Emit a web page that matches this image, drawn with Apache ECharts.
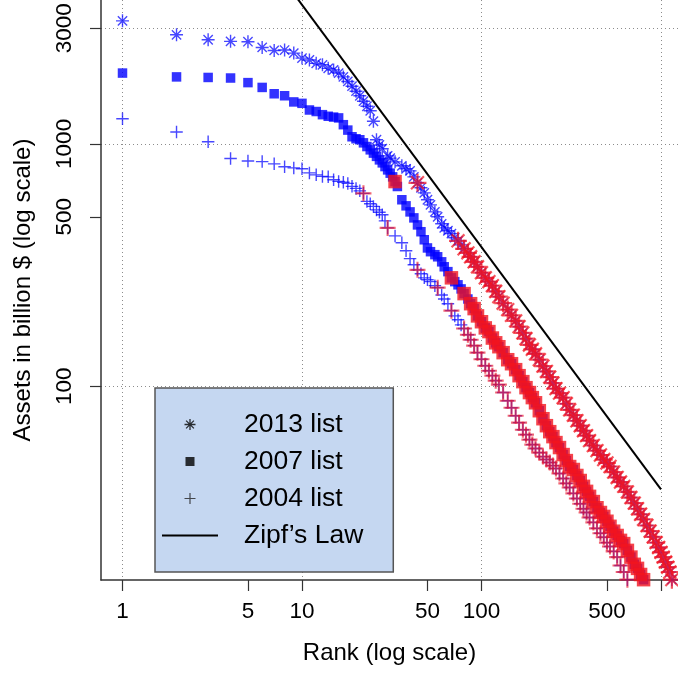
<!DOCTYPE html>
<html><head><meta charset="utf-8">
<script src="https://cdn.jsdelivr.net/npm/echarts@6/dist/echarts.min.js"></script>
<style>html,body{margin:0;padding:0;background:#fff}#c{width:678px;height:676px}</style>
</head><body><div id="c"></div>
<script>
// ---- data ----
const ranks2013 = [1,2,3,4,5,6,7,8,9,10,11,12,13,14,15,16,17,18,19,20,21,22,23,24,25,26,27,28,30,31,33,36,38,40,42,44,46,48,50,52,55,57,60,62,65,68,71,74,77,80,84,87,91,95,100,105,110,115,120,125,132,140,147,155,162,170,177,185,192,200,210,220,230,240,250,260,272,285,297,310,325,340,355,370,385,400,420,440,460,480,500,520,545,570,595,620,650,680,710,740,770,800,835,870,905,940,970,1000,1030,1060,1090,1120,1150];
const assets2013 = [3220,2820,2690,2650,2640,2500,2430,2440,2370,2260,2220,2150,2120,2050,2020,1960,1890,1810,1730,1650,1580,1500,1430,1370,1240,1040,990,955,892,873,843,812,789,774,731,691,659,628,588,560,524,500,468,450,438,426,410,398,383,369,355,342,326,311,294,280,270,260,246,234,220,207,196,186,176,166,157,148,142,136,128.6,121,115,109,103,97.7,93.6,89.7,84.6,79.9,75.9,72.0,68.7,65.5,62.5,59.6,56.9,54.2,52.0,49.8,48.2,46.6,44.2,42.0,40.2,38.6,36.6,34.7,32.9,31.2,29.6,28.2,26.6,25.2,23.9,22.6,21.6,20.6,19.7,18.8,17.9,17.1,15.9];

const ranks2007 = [1,2,3,4,5,6,7,8,9,10,11,12,13,14,15,16,17,18,19,20,21,22,23,24,25,26,27,28,29,30,31,32,33,34,36,38,40,42,44,46,48,50,52,55,57,60,62,65,68,71,74,77,80,84,87,91,95,100,105,110,115,120,125,132,140,147,155,162,170,177,185,192,200,210,220,230,240,250,260,272,285,297,310,325,340,355,370,385,400,420,440,460,480,500,520,545,570,595,620,650,680,710,740,770,800];
const assets2007 = [1960,1890,1880,1870,1790,1710,1610,1580,1490,1470,1380,1360,1320,1300,1290,1280,1200,1140,1070,1050,1040,1010,975,945,916,888,859,835,806,781,757,731,699,667,588,555,524,495,463,434,402,372,359,349,342,326,311,297,280,270,262,252,241,229,219,209,195,184.5,174,168,158,151,145.5,137.5,128.6,123.8,117,110.5,104.4,98.6,94.1,89.7,85.4,79.2,73.4,68.7,64.9,61.9,58.5,55.8,52.2,49.3,46.6,45.3,42.8,40.8,38.6,36.8,35.1,33.4,31.5,30.1,29.0,27.7,26.4,25.2,24.2,23.1,22.4,21.0,19.7,18.4,17.7,16.7,15.9];

const ranks2004 = [1,2,3,4,5,6,7,8,9,10,11,12,13,14,15,16,17,18,19,20,21,22,23,24,25,26,27,28,29,30,33,36,38,40,42,44,46,48,50,52,55,57,60,62,65,68,71,74,77,80,84,87,91,95,100,105,110,115,120,125,132,140,147,155,162,170,177,185,192,200,210,220,230,240,250,260,272,285,297,310,325,340,355,370,385,400,420,440,460,480,500,520,545,570,595,620,650];
const assets2004 = [1270,1120,1020,870,850,845,827,805,796,789,759,745,734,731,711,700,694,687,668,655,640,625,579,566,552,534,522,510,481,450,417,391,362,336,317,302,291,280,275,270,260,255,238,229,219,205,195,188,179,173,163,155.5,147,137.5,129.2,121.5,115.8,110.5,105.4,101.5,94.1,87.1,81.5,75.5,70.7,66.1,63.1,60.2,57.4,55.3,53.2,51.2,49.8,48.4,47.0,45.7,43.6,41.6,39.7,38.2,36.1,34.4,32.7,31.2,30.1,28.7,27.4,25.9,24.7,23.8,22.6,21.8,20.8,19.7,18.2,17.1,15.9];

// ranks drawn in red (subset highlighted in the picture)
const red2013Ranks = [44,74];  const red2013From = 80;
const red2007Ranks = [33,68,80]; const red2007From = 87;
const red2004Ranks = [22,30,44,57,68]; const red2004From = 80;

// Zipf's law reference line
const zipfRanks = [1,1000];
const zipfAssets = [37500,37.5];

// axis ticks / labels
const xTickValues  = [1,5,10,50,100,500,1000];
const xLabelValues = [1,5,10,50,100,500];
const xGridValues  = [1,10,100,1000];
const yTickValues  = [100,500,1000,3000];
const yGridValues  = [100,1000,3000];

const legendNames = ['2013 list','2007 list','2004 list','Zipf\u2019s Law'];

// ---- build ----
function pairs(r,a){return r.map((v,i)=>[v,a[i]]);}
function redSubset(r,a,extra,from){return pairs(r,a).filter(p=>extra.indexOf(p[0])>=0||p[0]>=from);}

const FONT = 'Liberation Sans, Arial, Helvetica, sans-serif';
const ASTER = 'path://M7,0L7,14M0,7L14,7M2,2L12,12M12,2L2,12';
const PLUS  = 'path://M7,0L7,14M0,7L14,7';
// legend icons laid out in a 56x12 box
const ICON_ASTER = 'path://M0,0M56,12M28,0.5L28,11.5M22.5,6L33.5,6M24.1,2.1L31.9,9.9M31.9,2.1L24.1,9.9';
const ICON_SQ    = 'path://M0,0M56,12M23.5,1.5L32.5,1.5L32.5,10.5L23.5,10.5Z';
const ICON_PLUS  = 'path://M0,0M56,12M28,0.5L28,11.5M22.5,6L33.5,6';
const ICON_LINE  = 'path://M0,0M56,12M0,6L56,6';
const BLUE = 'rgba(0,0,255,0.9)';
const XMIN = 0.759, XMAX = 1244, YMIN = 15.85, YMAX = 3925;

const chart = echarts.init(document.getElementById('c'), null, {renderer:'canvas'});

const strokeSym = (sym,size,col,w)=>({type:'scatter',symbol:sym,symbolSize:size,
  itemStyle:{color:'rgba(0,0,0,0)',borderColor:col,borderWidth:w},clip:true,animation:false});

const series = [
  Object.assign(strokeSym(ASTER,13,BLUE,1.4),{name:legendNames[0],data:pairs(ranks2013,assets2013)}),
  {type:'scatter',name:legendNames[1],symbol:'rect',symbolSize:9.5,itemStyle:{color:'#0000ff'},clip:true,animation:false,data:pairs(ranks2007,assets2007)},
  Object.assign(strokeSym(PLUS,12.5,BLUE,1.4),{name:legendNames[2],data:pairs(ranks2004,assets2004)}),
  Object.assign(strokeSym(ASTER,18,'rgba(242,20,30,0.9)',2.2),{name:'2013 red',data:redSubset(ranks2013,assets2013,red2013Ranks,red2013From)}),
  {type:'scatter',name:'2007 red',symbol:'rect',symbolSize:13.5,itemStyle:{color:'#f2141e'},clip:true,animation:false,data:redSubset(ranks2007,assets2007,red2007Ranks,red2007From)},
  Object.assign(strokeSym(PLUS,16,'rgba(232,20,40,0.82)',2.1),{name:'2004 red',data:redSubset(ranks2004,assets2004,red2004Ranks,red2004From)}),
  {type:'line',name:legendNames[3],data:pairs(zipfRanks,zipfAssets),symbol:'none',showSymbol:false,clip:true,animation:false,
   lineStyle:{color:'#000',width:2},itemStyle:{color:'#000'}}
];

const axisLineStyle = {color:'#333',width:1.5};
const option = {
  backgroundColor:'#fff',
  animation:false,
  grid:{left:101,top:0,right:0,bottom:96,outerBoundsMode:'none',containLabel:false},
  xAxis:[
    {type:'log',logBase:10,min:XMIN,max:XMAX,
     name:'Rank (log scale)',nameLocation:'middle',nameGap:61,
     nameTextStyle:{fontSize:24,color:'#000',fontFamily:FONT},
     axisLine:{show:true,onZero:false,lineStyle:axisLineStyle},
     axisTick:{show:true,length:11,customValues:xTickValues,lineStyle:{color:'#333',width:1.2}},
     axisLabel:{show:true,customValues:xLabelValues,fontSize:22.5,color:'#000',fontFamily:FONT,margin:20,
       formatter:v=>String(Math.round(v))},
     splitLine:{show:false}},
    {type:'log',logBase:10,min:XMIN,max:XMAX,position:'bottom',
     axisLine:{show:false},axisTick:{show:false,customValues:xGridValues},axisLabel:{show:false},
     splitLine:{show:true,lineStyle:{color:'#8c8c8c',type:[1,3],width:1}}}
  ],
  yAxis:[
    {type:'log',logBase:10,min:YMIN,max:YMAX,
     name:'Assets in billion $ (log scale)',nameLocation:'middle',nameGap:66,nameRotate:90,
     nameTextStyle:{fontSize:24,color:'#000',fontFamily:FONT},
     axisLine:{show:true,onZero:false,lineStyle:axisLineStyle},
     axisTick:{show:true,length:11,customValues:yTickValues,lineStyle:{color:'#333',width:1.2}},
     axisLabel:{show:true,customValues:yTickValues,rotate:90,fontSize:22.5,color:'#000',fontFamily:FONT,margin:25,
       formatter:v=>String(Math.round(v))},
     splitLine:{show:false}},
    {type:'log',logBase:10,min:YMIN,max:YMAX,position:'left',
     axisLine:{show:false},axisTick:{show:false,customValues:yGridValues},axisLabel:{show:false},
     splitLine:{show:true,lineStyle:{color:'#8c8c8c',type:[1,3],width:1}}}
  ],
  legend:{
    orient:'vertical',left:155,top:388,padding:[23,30,23,6],itemGap:10,itemWidth:56,itemHeight:12,
    backgroundColor:'#c5d7f1',borderColor:'#555',borderWidth:1.5,selectedMode:false,symbolKeepAspect:false,
    textStyle:{fontSize:26.5,color:'#000',fontFamily:FONT,lineHeight:26,padding:[0,0,0,21]},
    data:[
      {name:legendNames[0],icon:ICON_ASTER,itemStyle:{color:'rgba(0,0,0,0)',borderColor:'#000',borderWidth:1.3}},
      {name:legendNames[1],icon:ICON_SQ,itemStyle:{color:'#000',borderWidth:0}},
      {name:legendNames[2],icon:ICON_PLUS,itemStyle:{color:'rgba(0,0,0,0)',borderColor:'#222',borderWidth:1.2}},
      {name:legendNames[3],icon:ICON_LINE,itemStyle:{color:'rgba(0,0,0,0)',borderColor:'#000',borderWidth:2}}
    ]
  },
  series:series
};
chart.setOption(option);
</script></body></html>
